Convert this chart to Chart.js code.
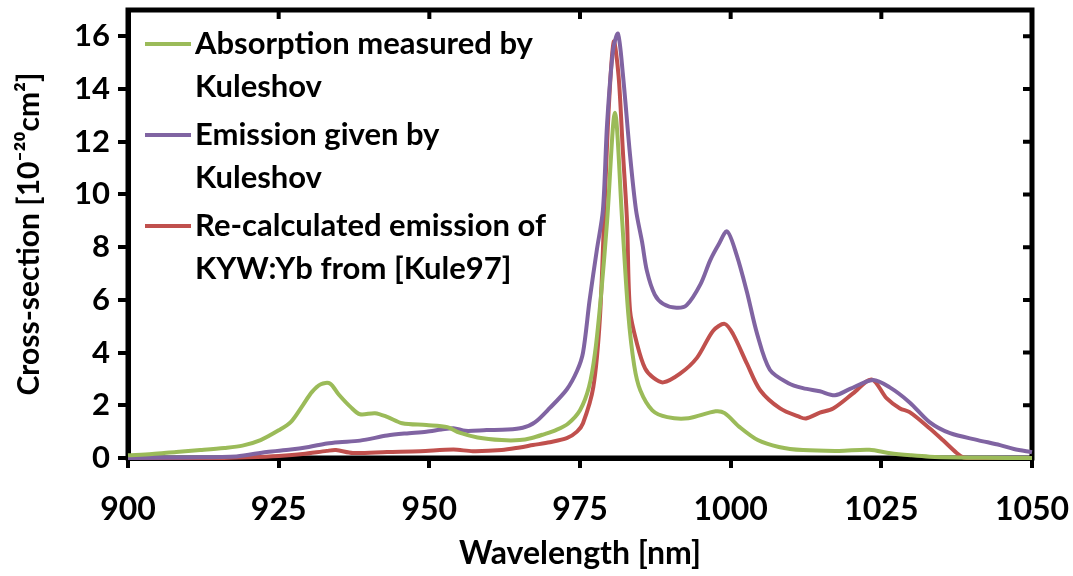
<!DOCTYPE html>
<html>
<head>
<meta charset="utf-8">
<script src="https://cdn.jsdelivr.net/npm/chart.js@4/dist/chart.umd.min.js"></script>
<style>
  html, body { margin: 0; padding: 0; background: #ffffff; }
  #wrap { width: 1073px; height: 576px; position: relative; }
</style>
</head>
<body>
<div id="wrap"><canvas id="c"></canvas></div>
<script>
// ---- data (wavelength nm, cross-section 1e-20 cm^2) ----
const xTicks = [900, 925, 950, 975, 1000, 1025, 1050];
const yTicks = [0, 2, 4, 6, 8, 10, 12, 14, 16];

const seriesNames = [
  ["Absorption measured by", "Kuleshov"],
  ["Emission given by", "Kuleshov"],
  ["Re-calculated emission of", "KYW:Yb from [Kule97]"]
];
const seriesColors = ["#9BBB59", "#8064A2", "#C0504D"];

const absorption = [
  [900,0.10],[904,0.15],[908,0.23],[912,0.30],[916,0.38],[919,0.47],[922,0.68],[925,1.05],
  [927,1.36],[929,2.00],[930.5,2.50],[932,2.80],[933.5,2.83],[935,2.40],[937,1.92],[938.5,1.66],
  [941,1.70],[943,1.56],[945.5,1.32],[949.5,1.25],[953,1.17],[955,0.96],[958,0.78],[962,0.68],
  [965,0.68],[967,0.76],[969,0.90],[971,1.06],[973,1.30],[975,1.81],[976.5,2.70],[977.5,4.00],
  [978.5,6.20],[979.5,9.00],[980.8,13.1],[982,9.00],[983,5.50],[984,3.50],[985,2.57],[987,1.81],
  [989.5,1.55],[993,1.51],[997.5,1.77],[999,1.70],[1001.5,1.17],[1004.5,0.68],[1008,0.42],
  [1012,0.30],[1018,0.27],[1023,0.31],[1026.5,0.18],[1030,0.10],[1033,0.05],[1037.5,0.02],
  [1042,0.01],[1050,0.00]
];

const emissionKuleshov = [
  [900,0.00],[910,0.02],[918,0.06],[923,0.23],[927,0.32],[930,0.42],[933,0.55],[935,0.60],
  [938.5,0.66],[943,0.85],[946,0.93],[949.5,1.00],[952,1.08],[954,1.13],[956,1.03],[959.5,1.06],
  [963,1.08],[965.5,1.15],[967.5,1.35],[970,1.90],[972.8,2.60],[974.5,3.30],[975.5,4.00],
  [976.6,6.00],[977.8,7.90],[978.8,9.40],[979.5,12.7],[980.5,15.5],[981.3,16.1],[982.1,14.6],
  [983.3,11.5],[984.3,9.40],[985.3,8.20],[986.1,7.10],[987.4,6.20],[988.8,5.85],[991,5.70],
  [992.7,5.80],[995,6.60],[996.6,7.50],[998,8.10],[999.4,8.60],[1001,7.70],[1002.7,6.30],
  [1004.4,4.70],[1006.5,3.35],[1009.5,2.85],[1012,2.65],[1014.8,2.53],[1017.3,2.38],[1019.8,2.62],
  [1023.6,2.96],[1026.4,2.68],[1029.7,2.11],[1033,1.36],[1036.4,0.94],[1041,0.68],[1044.7,0.49],
  [1047,0.34],[1050,0.22]
];

const emissionRecalc = [
  [900,0.00],[915,0.00],[920,0.03],[925,0.08],[929,0.15],[933,0.27],[934.5,0.30],[937.3,0.19],
  [943,0.23],[948.5,0.26],[954,0.32],[957.2,0.26],[962,0.30],[965,0.40],[967.2,0.49],[970,0.60],
  [972.8,0.75],[974.5,1.00],[975.5,1.32],[977.2,2.68],[978.3,5.30],[979.1,9.70],[979.8,13.4],
  [980.6,15.8],[981.4,14.5],[982.1,11.7],[982.8,9.00],[983.3,5.60],[984.5,4.30],[985.8,3.40],
  [987.1,3.06],[988.8,2.87],[991.6,3.20],[994.4,3.80],[997.1,4.83],[999,5.09],[1000.4,4.70],
  [1002.7,3.58],[1004.9,2.57],[1008.2,1.88],[1011.5,1.55],[1012.5,1.50],[1014.8,1.72],[1017,1.88],
  [1020.3,2.45],[1023.4,2.98],[1025.9,2.26],[1028.1,1.88],[1029.7,1.74],[1033,1.13],[1035.2,0.68],
  [1037.5,0.19],[1038.6,0.02],[1040,0.00],[1050,0.00]
];

const seriesData = [absorption, emissionKuleshov, emissionRecalc];

// ---- chart ----
const FONT = "Lato, 'Open Sans', 'Noto Sans', sans-serif";

const toPts = arr => arr.map(p => ({ x: p[0], y: p[1] }));

const datasets = seriesData.map((d, i) => ({
  label: seriesNames[i].join(" "),
  data: toPts(d),
  borderColor: seriesColors[i],
  backgroundColor: seriesColors[i],
  borderWidth: 4,
  pointRadius: 0,
  tension: 0.3,
  fill: false,
  clip: 3
}));

const frameAndLegend = {
  id: 'frameAndLegend',
  beforeDatasetsDraw(chart) {
    const ctx = chart.ctx;
    const a = chart.chartArea;
    const xs = chart.scales.x, ys = chart.scales.y;
    ctx.save();
    ctx.strokeStyle = '#000';
    ctx.lineWidth = 5;
    ctx.strokeRect(a.left, a.top, a.right - a.left, a.bottom - a.top);
    ctx.lineWidth = 4;
    ctx.beginPath();
    xTicks.forEach(v => {
      const px = xs.getPixelForValue(v);
      ctx.moveTo(px, a.top);
      ctx.lineTo(px, a.top + 9);
    });
    yTicks.forEach(v => {
      const py = ys.getPixelForValue(v);
      ctx.moveTo(a.right, py);
      ctx.lineTo(a.right - 9, py);
    });
    ctx.stroke();
    ctx.restore();
  },
  afterDraw(chart) {
    const ctx = chart.ctx;
    ctx.save();
    ctx.font = "bold 31px " + FONT;
    ctx.textBaseline = 'middle';
    ctx.textAlign = 'left';
    const groupTops = [44, 135, 226];
    chart.data.datasets.forEach((ds, i) => {
      const y0 = groupTops[i];
      ctx.strokeStyle = ds.borderColor;
      ctx.lineWidth = 4;
      ctx.beginPath();
      ctx.moveTo(145, y0);
      ctx.lineTo(191, y0);
      ctx.stroke();
      ctx.fillStyle = '#000';
      seriesNames[i].forEach((line, k) => {
        ctx.fillText(line, 195, y0 + k * 43);
      });
    });
    ctx.restore();
  }
};

new Chart(document.getElementById('c'), {
  type: 'line',
  data: { datasets },
  options: {
    responsive: true,
    maintainAspectRatio: false,
    animation: false,
    layout: { padding: { left: 0, top: 10, right: 41, bottom: 0 } },
    plugins: {
      legend: { display: false },
      tooltip: { enabled: false }
    },
    scales: {
      x: {
        type: 'linear',
        min: 900, max: 1050,
        afterBuildTicks: s => { s.ticks = xTicks.map(v => ({ value: v })); },
        afterFit: s => { s.height = 118; s.paddingLeft = 0; s.paddingRight = 0; },
        border: { display: true, color: '#000', width: 5 },
        grid: { display: true, drawOnChartArea: false, drawTicks: true, tickLength: 10, color: '#000', lineWidth: 4 },
        ticks: { color: '#000', font: { family: FONT, size: 32, weight: 'bold' }, padding: 22, maxRotation: 0, autoSkip: false,
                 callback: v => String(v) },
        title: { display: true, text: 'Wavelength [nm]', color: '#000', font: { family: FONT, size: 32, weight: 'bold' }, padding: { top: 0, bottom: 3 } }
      },
      y: {
        type: 'linear',
        min: 0, max: 17,
        afterBuildTicks: s => { s.ticks = yTicks.map(v => ({ value: v })); },
        afterFit: s => { s.width = 128; s.paddingTop = 0; s.paddingBottom = 0; },
        border: { display: true, color: '#000', width: 5 },
        grid: { display: true, drawOnChartArea: false, drawTicks: true, tickLength: 10, color: '#000', lineWidth: 4 },
        ticks: { color: '#000', font: { family: FONT, size: 31, weight: 'bold' }, padding: 8,
                 callback: v => String(v) },
        title: { display: true, text: 'Cross-section [10⁻²⁰cm²]', color: '#000', font: { family: FONT, size: 30, weight: 'bold' }, padding: { top: 11, bottom: 0 } }
      }
    }
  },
  plugins: [frameAndLegend]
});
</script>
</body>
</html>
